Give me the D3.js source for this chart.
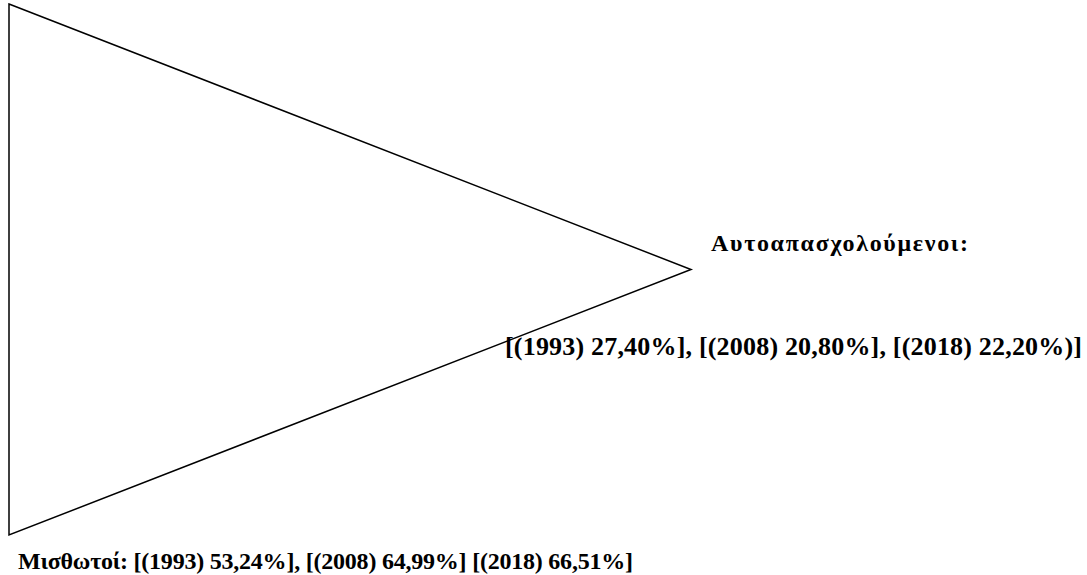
<!DOCTYPE html>
<html><head><meta charset="utf-8">
<script src="https://cdn.jsdelivr.net/npm/d3@7"></script>
<style>body{margin:0;background:#fff}svg{display:block}</style>
</head><body><svg id="c" width="1087" height="575"></svg>
<script>
const categories = ["Αυτοαπασχολούμενοι", "Μισθωτοί"];
const years = ["1993", "2008", "2018"];
const selfEmployed = ["27,40%", "20,80%", "22,20%"];
const employees = ["53,24%", "64,99%", "66,51%"];
// triangle corners in unit space
const corners = [[0, 0], [1, 0.5], [0, 1]];

const svg = d3.select("#c");
const x = d3.scaleLinear().domain([0, 1]).range([9, 691]);
const y = d3.scaleLinear().domain([0, 1]).range([4, 535]);

const font = "'Liberation Serif','Times New Roman',serif";

function label(txt, px, py, size, len) {
  svg.append("text").attr("x", px).attr("y", py)
    .attr("font-family", font).attr("font-weight", "bold").attr("font-size", size)
    .attr("textLength", len).attr("lengthAdjust", "spacing")
    .text(txt);
}

label(categories[0] + ":", 711, 251, 24, 257);

const seText = `[(${years[0]}) ${selfEmployed[0]}], [(${years[1]}) ${selfEmployed[1]}], [(${years[2]}) ${selfEmployed[2]})]`;
label(seText, 505, 355, 26, 577);

const emText = `${categories[1]}: [(${years[0]}) ${employees[0]}], [(${years[1]}) ${employees[1]}] [(${years[2]}) ${employees[2]}]`;
label(emText, 18, 569, 24, 615);

svg.append("path")
  .attr("d", d3.line().x(d => x(d[0])).y(d => y(d[1])).curve(d3.curveLinearClosed)(corners))
  .attr("fill", "none").attr("stroke", "#000").attr("stroke-width", 1.5).attr("stroke-linejoin", "miter");
</script></body></html>
